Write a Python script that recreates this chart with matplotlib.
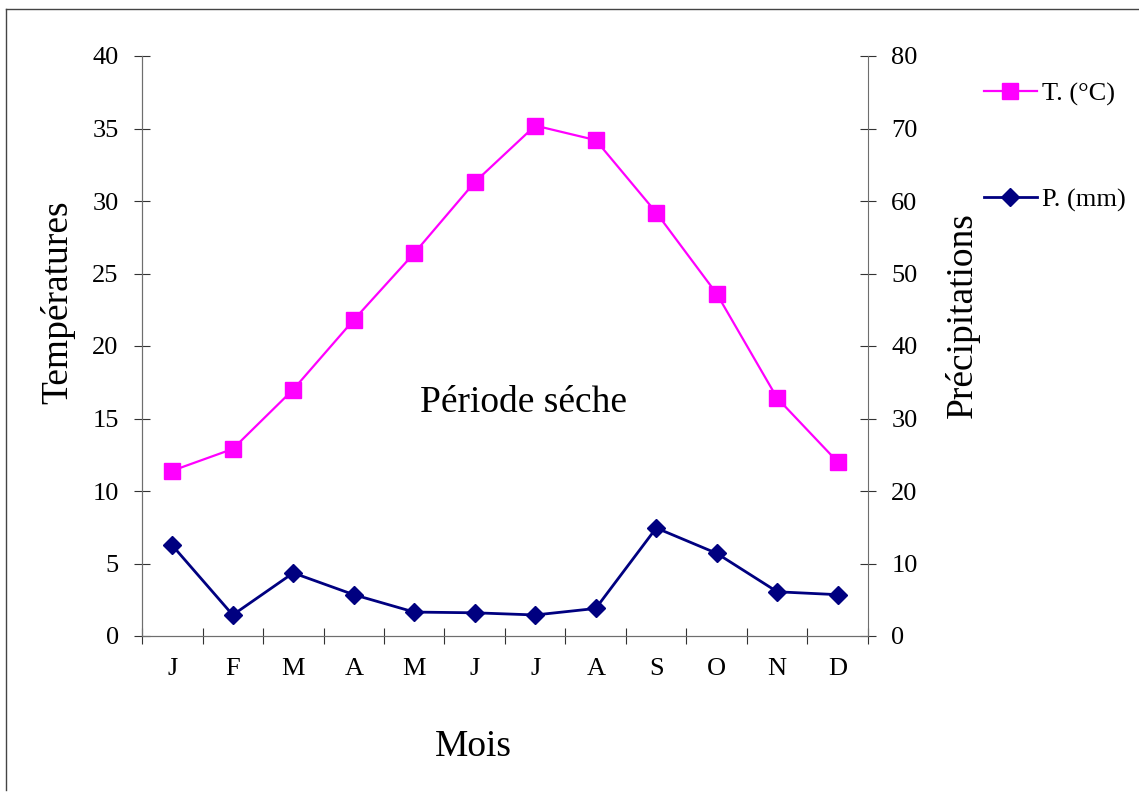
import matplotlib.pyplot as plt
from matplotlib.lines import Line2D
import numpy as np

plt.rcParams['font.family'] = ['Liberation Serif', 'DejaVu Serif']

mois = ['J', 'F', 'M', 'A', 'M', 'J', 'J', 'A', 'S', 'O', 'N', 'D']
temp = [11.4, 12.9, 17.0, 21.8, 26.4, 31.3, 35.2, 34.2, 29.2, 23.6, 16.4, 12.0]
prec = [12.5, 2.9, 8.7, 5.7, 3.3, 3.2, 2.9, 3.8, 14.9, 11.4, 6.1, 5.7]

x = np.arange(len(mois))
grey = '#6e6e6e'
tick_c = '#333333'

fig = plt.figure(figsize=(11.39, 7.94), dpi=100)
ax = fig.add_axes([142/1139, 1 - 636/794, 726/1139, 580/794])
ax2 = ax.twinx()

l1, = ax.plot(x, temp, color='#ff00ff', lw=1.6, marker='s', ms=11, label='T. (°C)')
l2, = ax2.plot(x, prec, color='#000080', lw=2.0, marker='D', ms=9, label='P. (mm)')

ax.set_xlim(-0.5, 11.5)
ax.set_ylim(0, 40)
ax2.set_ylim(0, 80)
ax.set_yticks(np.arange(0, 41, 5))
ax2.set_yticks(np.arange(0, 81, 10))

ax.set_xticks(np.arange(-0.5, 12, 1))
ax.set_xticklabels([])
ax.set_xticks(x, minor=True)
ax.set_xticklabels(mois, minor=True)
ax.tick_params(axis='x', which='major', direction='inout', length=11, color=tick_c)
ax.tick_params(axis='x', which='minor', length=0, pad=16, labelsize=19)
ax.tick_params(axis='y', direction='inout', length=11.5, color=tick_c, labelsize=19, pad=11)
ax2.tick_params(axis='y', direction='inout', length=11.5, color=tick_c, labelsize=19, pad=11)

for a in (ax, ax2):
    a.spines['top'].set_visible(False)
    for s in a.spines.values():
        s.set_color(grey)
ax.spines['right'].set_visible(False)

ax.set_ylabel('Températures', fontsize=27)
ax.yaxis.set_label_coords(-0.092, 0.576)
ax2.set_ylabel('Précipitations', fontsize=27)
ax2.yaxis.set_label_coords(1.106, 0.553)
ax.set_xlabel('Mois', fontsize=27)
ax.xaxis.set_label_coords(0.457, -0.162)

ax.text(5.8, 16.1, 'Période séche', fontsize=27, ha='center', va='center')

fig.legend(handles=[l1, l2], loc='upper left', bbox_to_anchor=(984/1139, 1 - 82/794),
           frameon=False, fontsize=19, handlelength=2.0, handletextpad=0.2,
           labelspacing=3.12, borderpad=0, borderaxespad=0)

# outer frame
fig.add_artist(Line2D([6/1139, 6/1139], [1 - 9/794, 1 - 790/794], color='#444444', lw=1))
fig.add_artist(Line2D([6/1139, 1], [1 - 9/794, 1 - 9/794], color='#444444', lw=1))

fig.savefig('out.png', dpi=100)
